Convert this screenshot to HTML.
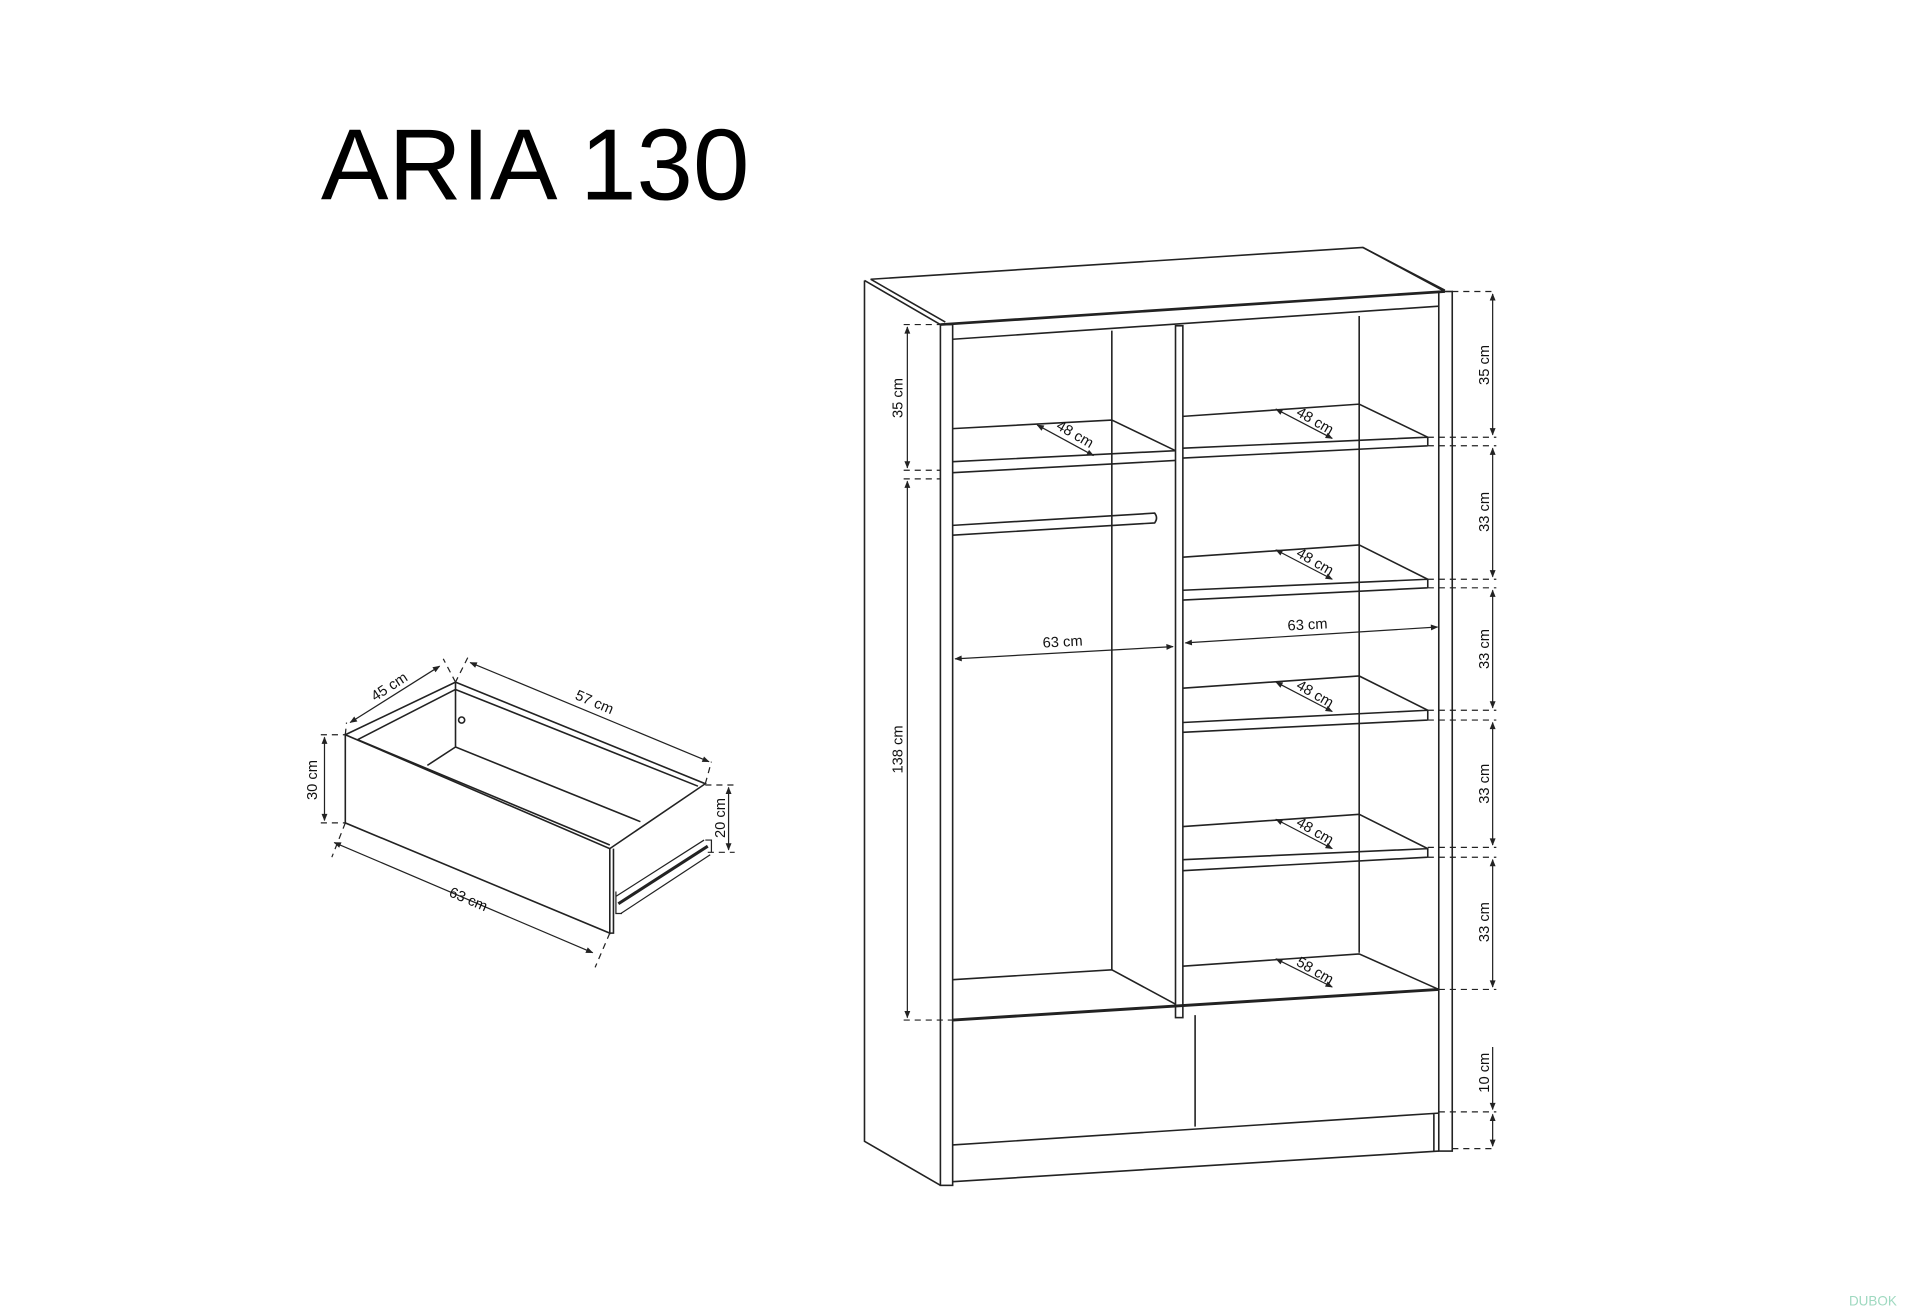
<!DOCTYPE html>
<html><head><meta charset="utf-8"><style>
html,body{margin:0;padding:0;background:#fff;}
svg{display:block;}
text{font-family:"Liberation Sans",Arial,sans-serif;fill:#111;}
</style></head><body>
<svg width="1920" height="1314" viewBox="0 0 1568 1073" xmlns="http://www.w3.org/2000/svg">
<defs>
<marker id="a" viewBox="0 0 10 10" refX="9" refY="5" markerWidth="7" markerHeight="6" orient="auto-start-reverse"><path d="M0,1 L10,5 L0,9 z" fill="#222"/></marker>
</defs>
<text x="262" y="163" font-size="83" style="fill:#000" textLength="350" lengthAdjust="spacingAndGlyphs">ARIA 130</text>

<g stroke="#222" stroke-width="1.3" fill="none">
<path d="M706,229 L706,932 L768,968"/>
<path d="M706,229 L768,265 M711,228 L772,263"/>
<path d="M711,228 L1113,202 L1180,238"/>
<path d="M1113,202 L1180,237"/>
<path d="M768,265 L1180,238" stroke-width="2.2"/>
<rect x="768" y="265" width="10" height="703"/>
<rect x="1175" y="238" width="11" height="702"/>
<path d="M778,277 L1175,250"/>
<rect x="960" y="266" width="6" height="565"/>
<path d="M908,270 L908,792 M1110,258 L1110,778"/>
<path d="M778,350 L908,343 L960,368 M778,377 L960,368 M778,386 L960,376"/>
<path d="M778,429 L943,419 Q946,423 943,427 L778,437"/>
<path d="M778,800 L908,792 L960,820"/>
<path d="M966,340 L1110,330 L1166,357 L1166,364 M966,366 L1166,357 M966,374 L1166,364"/>
<path d="M966,455 L1110,445 L1166,473 L1166,480 M966,482 L1166,473 M966,490 L1166,480"/>
<path d="M966,562 L1110,552 L1166,580 L1166,588 M966,590 L1166,580 M966,598 L1166,588"/>
<path d="M966,675 L1110,665 L1166,693 L1166,700 M966,702 L1166,693 M966,711 L1166,700"/>
<path d="M966,789 L1110,779 L1175,808"/>
<path d="M778,833 L1175,808" stroke-width="2.4"/>
<path d="M976,829 L976,920 M778,935 L1175,909 M778,965 L1175,940 M1171,909 L1171,940"/>
</g>

<g stroke="#222" stroke-width="1" fill="none">
<g stroke-dasharray="5,4">
<path d="M738,265 L768,265 M738,384 L768,384 M738,391 L768,391 M738,833 L778,833"/>
<path d="M1186,238 L1222,238 M1166,357 L1222,357 M1166,364 L1222,364 M1166,473 L1222,473 M1166,480 L1222,480 M1166,580 L1222,580 M1166,588 L1222,588 M1166,692 L1222,692 M1166,700 L1222,700 M1175,808 L1222,808 M1175,908 L1222,908 M1186,938 L1222,938"/>
</g>
<path d="M741,267 L741,382" marker-start="url(#a)" marker-end="url(#a)"/>
<path d="M741,393 L741,831" marker-start="url(#a)" marker-end="url(#a)"/>
<path d="M1219,240 L1219,355" marker-start="url(#a)" marker-end="url(#a)"/>
<path d="M1219,366 L1219,471" marker-start="url(#a)" marker-end="url(#a)"/>
<path d="M1219,482 L1219,578" marker-start="url(#a)" marker-end="url(#a)"/>
<path d="M1219,590 L1219,690" marker-start="url(#a)" marker-end="url(#a)"/>
<path d="M1219,702 L1219,806" marker-start="url(#a)" marker-end="url(#a)"/>
<path d="M1219,855 L1219,906" marker-end="url(#a)"/>
<path d="M1219,910 L1219,936" marker-start="url(#a)" marker-end="url(#a)"/>
<path d="M780,538 L958,528" marker-start="url(#a)" marker-end="url(#a)"/>
<path d="M968,525 L1174,512" marker-start="url(#a)" marker-end="url(#a)"/>
<path d="M847,347 L893,372" marker-start="url(#a)" marker-end="url(#a)"/>
<path d="M1042,334 L1088,358" marker-start="url(#a)" marker-end="url(#a)"/>
<path d="M1042,449 L1088,473" marker-start="url(#a)" marker-end="url(#a)"/>
<path d="M1042,557 L1088,581" marker-start="url(#a)" marker-end="url(#a)"/>
<path d="M1042,669 L1088,693" marker-start="url(#a)" marker-end="url(#a)"/>
<path d="M1042,783 L1088,806" marker-start="url(#a)" marker-end="url(#a)"/>
</g>
<g font-size="12" text-anchor="middle">
<text transform="translate(737,325) rotate(-90)">35 cm</text>
<text transform="translate(737,612) rotate(-90)">138 cm</text>
<text transform="translate(1216,298) rotate(-90)">35 cm</text>
<text transform="translate(1216,418) rotate(-90)">33 cm</text>
<text transform="translate(1216,530) rotate(-90)">33 cm</text>
<text transform="translate(1216,640) rotate(-90)">33 cm</text>
<text transform="translate(1216,753) rotate(-90)">33 cm</text>
<text transform="translate(1216,876) rotate(-90)">10 cm</text>
<text transform="translate(868,528) rotate(-3)">63 cm</text>
<text transform="translate(1068,514) rotate(-3)">63 cm</text>
<text transform="translate(876,358) rotate(30)">48 cm</text>
<text transform="translate(1072,347) rotate(30)">48 cm</text>
<text transform="translate(1072,462) rotate(30)">48 cm</text>
<text transform="translate(1072,570) rotate(30)">48 cm</text>
<text transform="translate(1072,682) rotate(30)">48 cm</text>
<text transform="translate(1072,796) rotate(30)">58 cm</text>
</g>

<g stroke="#222" stroke-width="1.3" fill="none">
<path d="M282,600 L282,672 L498,762 L498,693 Z"/>
<path d="M282,600 L372,557 L576,640 L498,693 M501,693 L501,762 L498,762"/>
<path d="M292,604 L372,563 M292,604 L498,690 M372,563 L570,642"/>
<path d="M372,557 L372,610 L523,671 M372,610 L349,625"/>
<circle cx="377" cy="588" r="2.5"/>
</g>
<g stroke="#222" stroke-width="2.5" fill="none"><path d="M505,738 L578,691"/></g>
<g stroke="#222" stroke-width="1" fill="none">
<path d="M503,732 L575,686 M507,746 L580,698 M503,728 L503,746 L508,746 M576,686 L581,686 L581,696"/>
<g stroke-dasharray="5,4">
<path d="M262,600 L282,600 M262,672 L282,672 M576,641 L600,641 M578,696 L600,696"/>
<path d="M282,672 L271,700 M498,762 L486,790 M282,600 L283,590 M372,557 L362,538 M382,537 L372,557 M576,640 L581,622"/>
</g>
<path d="M265,602 L265,670" marker-start="url(#a)" marker-end="url(#a)"/>
<path d="M595,643 L595,694" marker-start="url(#a)" marker-end="url(#a)"/>
<path d="M273,688 L484,778" marker-start="url(#a)" marker-end="url(#a)"/>
<path d="M286,590 L359,544" marker-start="url(#a)" marker-end="url(#a)"/>
<path d="M384,541 L579,622" marker-start="url(#a)" marker-end="url(#a)"/>
</g>
<g font-size="12" text-anchor="middle">
<text transform="translate(259,637) rotate(-90)">30 cm</text>
<text transform="translate(592,668) rotate(-90)">20 cm</text>
<text transform="translate(381,738) rotate(23)">63 cm</text>
<text transform="translate(320,564) rotate(-33)">45 cm</text>
<text transform="translate(484,577) rotate(23)">57 cm</text>
</g>
<text x="1510" y="1066" font-size="11" style="fill:#9fd9c0">DUBOK</text>
</svg>
</body></html>
